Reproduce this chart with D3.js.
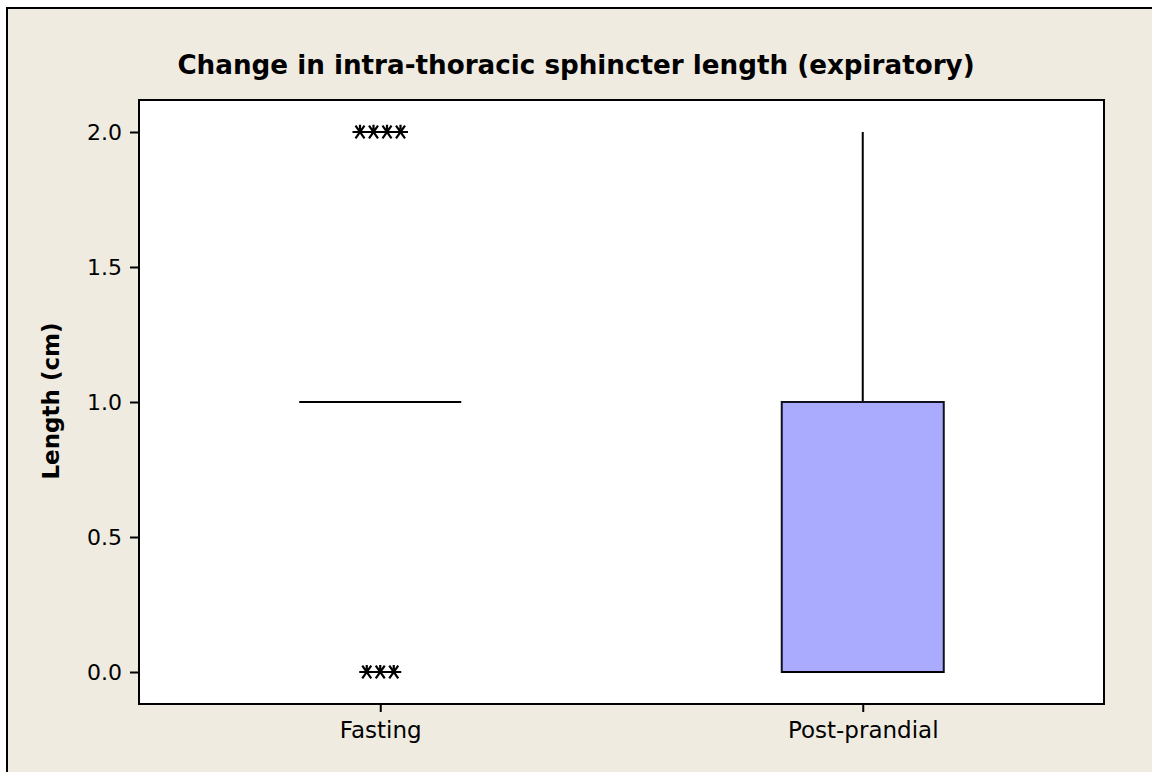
<!DOCTYPE html>
<html>
<head>
<meta charset="utf-8">
<script src="https://cdn.jsdelivr.net/npm/d3@7"></script>
<style>
  body { margin: 0; background: #fff; }
  svg { display: block; }
  text { font-family: "DejaVu Sans", Verdana, sans-serif; fill: #000; }
</style>
</head>
<body>
<svg id="chart" width="1152" height="772"></svg>
<script>
// data
const groups = ["Fasting", "Post-prandial"];
const q1 = [1, 0];
const median = [1, 0];
const q3 = [1, 1];
const whiskerLow = [1, 0];
const whiskerHigh = [1, 2];
// outliers: value and count of tied points, per group
const outlierValues = [[2, 0], []];
const outlierCounts = [[4, 3], []];
const yTicks = [0.0, 0.5, 1.0, 1.5, 2.0];

const svg = d3.select("#chart");
const plot = {left: 139, top: 100, right: 1104, bottom: 704};

// background frame
svg.append("rect")
  .attr("x", 7).attr("y", 8)
  .attr("width", 1160).attr("height", 780)
  .attr("fill", "#efebe0")
  .attr("stroke", "#000").attr("stroke-width", 2);

svg.append("rect")
  .attr("x", plot.left).attr("y", plot.top)
  .attr("width", plot.right - plot.left).attr("height", plot.bottom - plot.top)
  .attr("fill", "#fff");

let xScale = d3.scalePoint()
  .domain(groups)
  .range([plot.left, plot.right])
  .padding(0.5);

let yScale = d3.scaleLinear()
  .domain([-0.1185, 2.1185])
  .range([plot.bottom, plot.top]);

const boxWidth = 162;

// boxes
groups.forEach((g, i) => {
  let cx = xScale(g);
  let gp = svg.append("g");
  // whiskers
  if (whiskerHigh[i] > q3[i]) {
    gp.append("line")
      .attr("x1", cx).attr("x2", cx)
      .attr("y1", yScale(q3[i])).attr("y2", yScale(whiskerHigh[i]))
      .attr("stroke", "#000").attr("stroke-width", 2);
  }
  if (whiskerLow[i] < q1[i]) {
    gp.append("line")
      .attr("x1", cx).attr("x2", cx)
      .attr("y1", yScale(q1[i])).attr("y2", yScale(whiskerLow[i]))
      .attr("stroke", "#000").attr("stroke-width", 2);
  }
  if (q3[i] > q1[i]) {
    gp.append("rect")
      .attr("x", cx - boxWidth / 2)
      .attr("y", yScale(q3[i]))
      .attr("width", boxWidth)
      .attr("height", yScale(q1[i]) - yScale(q3[i]))
      .attr("fill", "#aaaaff")
      .attr("stroke", "#111122").attr("stroke-width", 2);
  }
  // median line
  gp.append("line")
    .attr("x1", cx - boxWidth / 2).attr("x2", cx + boxWidth / 2)
    .attr("y1", yScale(median[i])).attr("y2", yScale(median[i]))
    .attr("stroke", "#000").attr("stroke-width", 2);

  // outliers, ties spread sideways
  const step = 13.5;
  outlierValues[i].forEach((v, k) => {
    let n = outlierCounts[i][k];
    for (let j = 0; j < n; j++) {
      let sx = cx + (j - (n - 1) / 2) * step;
      let sy = yScale(v);
      let r = 7.5;
      gp.append("path")
        .attr("d", `M${sx - r},${sy}L${sx + r},${sy}` +
          `M${sx - r * 0.6},${sy - r * 0.85}L${sx + r * 0.6},${sy + r * 0.85}` +
          `M${sx + r * 0.6},${sy - r * 0.85}L${sx - r * 0.6},${sy + r * 0.85}` +
          `M${sx},${sy - r * 0.3}L${sx},${sy - r * 0.95}`)
        .attr("stroke", "#000").attr("stroke-width", 2.2).attr("fill", "none");
    }
  });
});

// frame around data area
svg.append("rect")
  .attr("x", plot.left).attr("y", plot.top)
  .attr("width", plot.right - plot.left).attr("height", plot.bottom - plot.top)
  .attr("fill", "none")
  .attr("stroke", "#000").attr("stroke-width", 2);

// y axis
let yAxis = svg.append("g")
  .attr("transform", "translate(" + plot.left + ",0)")
  .call(d3.axisLeft(yScale).tickValues(yTicks).tickFormat(d3.format(".1f")).tickSize(9).tickSizeOuter(0));
yAxis.select(".domain").remove();
yAxis.selectAll("line").attr("stroke", "#000").attr("stroke-width", 2);
yAxis.selectAll("text")
  .attr("font-size", "22px")
  .attr("font-family", "DejaVu Sans")
  .attr("x", -17);

// x axis
let xAxis = svg.append("g")
  .attr("transform", "translate(0," + plot.bottom + ")")
  .call(d3.axisBottom(xScale).tickSize(8).tickSizeOuter(0));
xAxis.select(".domain").remove();
xAxis.selectAll("line").attr("stroke", "#000").attr("stroke-width", 2);
xAxis.selectAll("text")
  .attr("font-size", "23px")
  .attr("font-family", "DejaVu Sans")
  .attr("y", 18);

// title
svg.append("text")
  .attr("x", 576).attr("y", 74)
  .attr("text-anchor", "middle")
  .attr("font-size", "26.2px")
  .attr("font-weight", "bold")
  .text("Change in intra-thoracic sphincter length (expiratory)");

// y label
svg.append("text")
  .attr("transform", "translate(59,401) rotate(-90)")
  .attr("text-anchor", "middle")
  .attr("font-size", "23px")
  .attr("font-weight", "bold")
  .text("Length (cm)");
</script>
</body>
</html>
